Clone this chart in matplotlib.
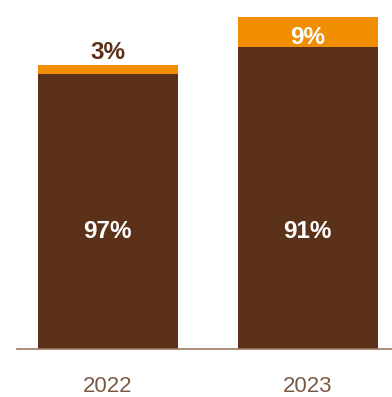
import matplotlib.pyplot as plt

plt.rcParams['font.family'] = ['Liberation Sans', 'DejaVu Sans']

# two years, overall size relative to 2023, split into two shares
years = ['2022', '2023']
totals = [85.5, 100.0]
share_main = [97, 91]
share_other = [3, 9]

brown = '#5b3219'
orange = '#f18d00'

main_vals = [t * s / 100 for t, s in zip(totals, share_main)]
other_vals = [t * s / 100 for t, s in zip(totals, share_other)]

fig = plt.figure(figsize=(3.92, 3.97), dpi=100)
ax = fig.add_axes([17 / 392, 1 - 348.5 / 397, 1 - 17 / 392, (348.5 - 17) / 397])

x = range(len(years))
ax.bar(x, main_vals, width=0.7, color=brown, zorder=2)
ax.bar(x, other_vals, width=0.7, bottom=main_vals, color=orange, zorder=2)

ax.set_xlim(-0.4525, 1.4225)
ax.set_ylim(0, 100)

label_kw = dict(ha='center', va='center_baseline', fontsize=17.5,
                fontweight='bold', clip_on=False)

# big share labels sit at the same height in both bars
for i, s in enumerate(share_main):
    ax.text(i, 36.0, f'{s}%', color='white', **label_kw)

# small share: above the bar when the slice is thin, inside otherwise
for i, s in enumerate(share_other):
    top = main_vals[i] + other_vals[i]
    if other_vals[i] < 5:
        ax.text(i, top + 4.4, f'{s}%', color=brown, **label_kw)
    else:
        ax.text(i, main_vals[i] + other_vals[i] / 2 - 1.0, f'{s}%',
                color='white', **label_kw)

for side in ['top', 'right', 'left']:
    ax.spines[side].set_visible(False)
ax.spines['bottom'].set_color('#9b7a64')
ax.spines['bottom'].set_linewidth(1.2)
ax.spines['bottom'].set_zorder(3)

ax.set_xticks(list(x))
ax.set_xticklabels(years, fontsize=16, color='#7b5a45')
ax.tick_params(axis='x', length=0, pad=19.5)
ax.set_yticks([])

fig.savefig('out.png', dpi=100)
